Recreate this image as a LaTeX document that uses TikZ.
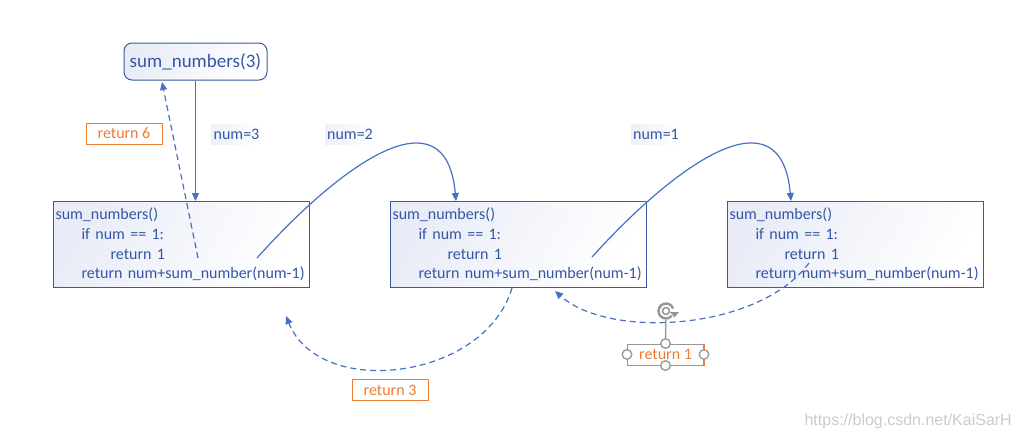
\documentclass[tikz,border=0pt]{standalone}
\usepackage{fontspec}
\setmainfont{Carlito}
\newfontfamily\wmfont{Liberation Sans}
\usetikzlibrary{arrows.meta}
\definecolor{bxblue}{RGB}{59,89,160}
\definecolor{txblue}{RGB}{52,86,165}
\definecolor{arblue}{RGB}{68,114,196}
\definecolor{rorange}{RGB}{237,125,49}
\definecolor{lav}{RGB}{226,230,244}
\definecolor{hgray}{RGB}{150,150,150}
\begin{document}
\begin{tikzpicture}[x=1pt,y=-1pt,
  codebox/.style={draw=bxblue, line width=1pt, top color=lav!75, bottom color=white, shading angle=60,
    minimum width=256pt, minimum height=86pt, text width=252pt, inner xsep=2pt, inner ysep=0pt,
    align=left, text=txblue, font=\fontsize{16}{19.7}\selectfont, anchor=north west},
  callbox/.style={draw=bxblue, line width=1pt, rounded corners=8pt, top color=lav!75, bottom color=white,
    shading angle=60, minimum width=143pt, minimum height=37pt, text=txblue, font=\fontsize{19}{22}\selectfont},
  numlbl/.style={left color=lav!60, right color=white, inner xsep=2pt, inner ysep=0pt,
    minimum height=20pt, text=txblue, font=\fontsize{16}{18}\selectfont},
  retbox/.style={draw=rorange, line width=1pt, fill=white, text=rorange, minimum width=76pt, minimum height=21pt,
    inner sep=0pt, font=\fontsize{16}{18}\selectfont},
  arr/.style={draw=arblue, line width=1.2pt, -{Triangle[length=8pt,width=7pt]}},
  darr/.style={arr, dash pattern=on 6pt off 4pt},
  handle/.style={draw=hgray, line width=1.3pt, fill=white}
]
\fill[white] (0,0) rectangle (1021,439);
\useasboundingbox (0,0) rectangle (1021,439);

% nodes
\node[callbox] (sum3) at (195.5,61.5) {sum\_numbers(3)};
\node[codebox] (box1) at (53,201) {sum\_numbers()\\\hspace*{26pt}if num == 1:\\\hspace*{55pt}return 1\\\hspace*{26pt}return num+sum\_number(num-1)};
\node[codebox] (box2) at (390,201) {sum\_numbers()\\\hspace*{26pt}if num == 1:\\\hspace*{55pt}return 1\\\hspace*{26pt}return num+sum\_number(num-1)};
\node[codebox] (box3) at (727,201) {sum\_numbers()\\\hspace*{26pt}if num == 1:\\\hspace*{55pt}return 1\\\hspace*{26pt}return num+sum\_number(num-1)};

\node[numlbl, minimum width=51pt] (n3) at (236.5,134) {num=3};
\node[numlbl, minimum width=50pt] (n2) at (350,134) {num=2};
\node[numlbl, minimum width=50pt] (n1) at (656,134) {num=1};

\node[retbox] (r6) at (124,133.5) {return 6};
\node[retbox] (r3) at (390,390) {return 3};

% connector end points
\coordinate (d1) at (198,258);
\coordinate (s3ret) at (162,82);
\coordinate (c1) at (257,258);
\coordinate (t2) at (456,201);
\coordinate (c2) at (592,257);
\coordinate (t3) at (791,201);
\coordinate (d2) at (512,288);
\coordinate (e2) at (286,316);
\coordinate (d3) at (809,263);
\coordinate (e3) at (555,291);

% connectors
\draw[arr] (sum3.south) -- (sum3.south |- box1.north);
\draw[darr] (d1) -- (s3ret);
\draw[arr] (c1) .. controls (344,161) and (446,91) .. (t2);
\draw[arr] (c2) .. controls (679,161) and (781,91) .. (t3);
\draw[darr] (d2) .. controls (485,380) and (320,400) .. (e2);
\draw[darr] (d3) .. controls (760,330) and (610,340) .. (e3);

% return 1 with selection handles
\node[retbox, draw=hgray] (r1) at (665.5,354.5) {return 1};
\draw[rorange, line width=1pt] (r1.north east) -- (r1.south east);
\coordinate (rot) at (666,311);
\draw[hgray, line width=1.3pt] (r1.north) -- (rot);
\fill[white] (rot) circle (9pt);
\draw[hgray, line width=2.4pt] (rot) ++(20:7.5pt) arc[start angle=20, end angle=320, radius=7.5pt];
\draw[hgray, line width=1.5pt] (rot) circle (3.5pt);
\fill[hgray] (rot) ++(4pt,-1pt) -- ++(9pt,0pt) -- ++(-4.5pt,-5.5pt) -- cycle;
\draw[handle] (r1.north) circle (4.8pt);
\draw[handle] (r1.south) circle (4.8pt);
\draw[handle] (r1.west) circle (4.8pt);
\draw[handle] (r1.east) circle (4.8pt);

% watermark
\node[font=\wmfont\fontsize{16}{16}\selectfont, text=black!20, anchor=east, inner sep=0pt] (wm) at (1012,421) {https://blog.csdn.net/KaiSarH};
\end{tikzpicture}
\end{document}
